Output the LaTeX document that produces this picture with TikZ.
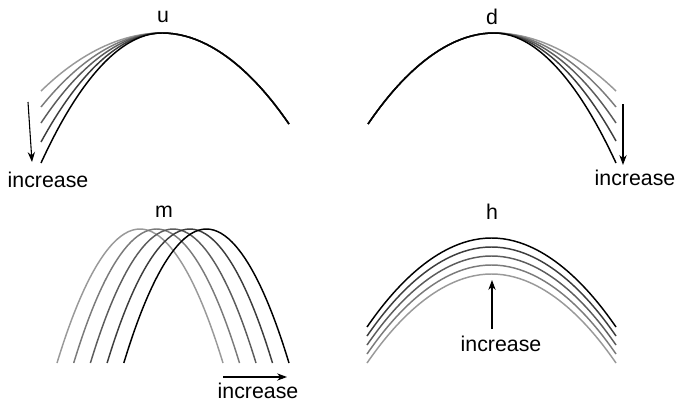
\documentclass[tikz,border=0pt]{standalone}
\usepackage{fontspec}
\setmainfont{Liberation Sans}
\usetikzlibrary{arrows.meta}

\begin{document}
\begin{tikzpicture}[x=0.75pt,y=0.75pt,yscale=-1,xscale=1,
    curve/.style={line width=1.1pt},
    arr/.style={line width=0.8pt,-{Stealth[length=7.5pt,width=5.5pt,inset=2.5pt]}},
    lbl/.style={font=\fontsize{16}{18}\selectfont,inner sep=0.75pt}]
		\useasboundingbox (0,0) rectangle (677,403);
		
		%Shape: Parabolas u
		\foreach \ly/\shade in {91/40,107/52,123/64,142/76,163/100}
		  \draw [curve, black!\shade] (41,\ly) parabola bend (162,33) (289,124) ;
		%Shape: Parabolas d
		\foreach \ry/\shade in {91/40,107/52,123/64,141/76,163/100}
		  \draw [curve, black!\shade] (368,124) parabola bend (494,33) (616,\ry) ;
		%Shape: Parabolas m
		\foreach \i/\shade in {0/40,1/52,2/64,3/76,4/100}
		  \draw [curve, black!\shade] ({57+16.7*\i},363) parabola bend ({140+16.6*\i},229) ({223+16.5*\i},363) ;
		%Shape: Parabolas h
		\foreach \i/\shade in {4/40,3/52,2/64,1/76,0/100}
		  \draw [curve, black!\shade] (367,{327+9*\i}) parabola bend (491.5,{238+9*\i}) (616,{327+9*\i}) ;
		
		% Text Node
		\node [lbl] (labU) at (163,17) {u};
		% Text Node
		\node [lbl] (labD) at (492,17) {d};
		% Text Node
		\node [lbl] (labM) at (164,212) {m};
		% Text Node
		\node [lbl] (labH) at (492,212) {h};
		% Text Node
		\node [lbl] (incU) at (48,180) {increase};
		% Text Node
		\node [lbl] (incD) at (635,178) {increase};
		% Text Node
		\node [lbl] (incM) at (258,390.5) {increase};
		% Text Node
		\node [lbl] (incH) at (501,344) {increase};
		
		%Straight Lines
		\coordinate (uFrom) at (28,102);
		\coordinate (uTo) at (32,162);
		\draw [arr] (uFrom) -- (uTo) ;
		%Straight Lines
		\coordinate (dFrom) at (623,104);
		\coordinate (dTo) at (623,165);
		\draw [arr] (dFrom) -- (dTo) ;
		%Straight Lines
		\coordinate (mFrom) at (223,377);
		\coordinate (mTo) at (287,377);
		\draw [arr] (mFrom) -- (mTo) ;
		%Straight Lines
		\coordinate (hFrom) at (492,329);
		\coordinate (hTo) at (492,280);
		\draw [arr] (hFrom) -- (hTo) ;
		
\end{tikzpicture}
\end{document}
